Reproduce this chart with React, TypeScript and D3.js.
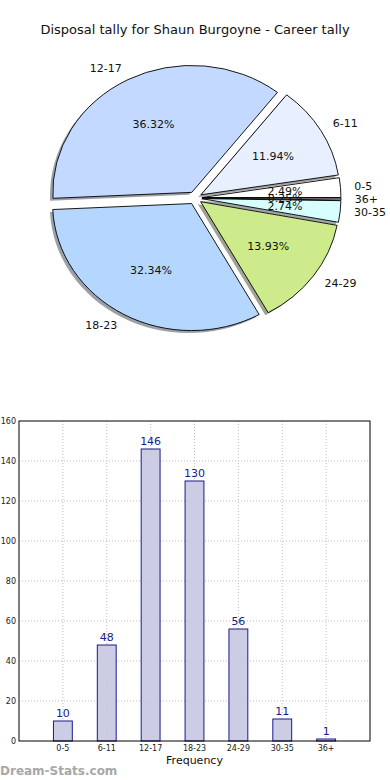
import { useEffect, useRef } from "react";
import * as d3 from "d3";

const categories = ["0-5", "6-11", "12-17", "18-23", "24-29", "30-35", "36+"];
const tally = [10, 48, 146, 130, 56, 11, 1];
const sliceColors = ["#ffffff", "#e8effe", "#c3d9ff", "#b5d7ff", "#cdeb8b", "#d7ffff", "#c8c8c8"];
const yTicks = [0, 20, 40, 60, 80, 100, 120, 140, 160];

export default function App() {
  const ref = useRef<SVGSVGElement>(null);

  useEffect(() => {
    if (!ref.current) return;
    const svg = d3.select(ref.current);
    svg.selectAll("*").remove();
    const font = "DejaVu Sans, sans-serif";

    // title
    svg.append("text")
      .attr("x", 195).attr("y", 34)
      .attr("text-anchor", "middle")
      .attr("font-family", font).attr("font-size", 13)
      .attr("fill", "#111")
      .text("Disposal tally for Shaun Burgoyne - Career tally");

    // ---- pie (matplotlib style: ccw from 3 o'clock, elliptical, exploded) ----
    const cx = 195, cy = 198, rx = 139, ry = 127, explode = 0.05;
    const total = d3.sum(tally);
    const pie = d3.pie<number>().sort(null).value((d) => d);
    const slices = pie(tally).map((p, i) => {
      const t0 = p.startAngle, t1 = p.endAngle; // treated as ccw math angles
      const mid = (t0 + t1) / 2;
      return {
        i, t0, t1, mid,
        ox: cx + explode * rx * Math.cos(mid),
        oy: cy - explode * ry * Math.sin(mid),
      };
    });

    const arc = d3.arc<any>()
      .innerRadius(0).outerRadius(1)
      .startAngle((d: any) => Math.PI / 2 - d.t1)
      .endAngle((d: any) => Math.PI / 2 - d.t0);

    const pieG = svg.append("g");

    // shadows
    pieG.selectAll("path.shadow")
      .data(slices)
      .join("path")
      .attr("class", "shadow")
      .attr("transform", (d) => `translate(${d.ox - 2.8},${d.oy + 2.5}) scale(${rx},${ry})`)
      .attr("d", arc)
      .attr("fill", (d) => {
        const c = d3.rgb(sliceColors[d.i]);
        return d3.rgb(c.r * 0.3, c.g * 0.3, c.b * 0.3).toString();
      })
      .attr("opacity", 0.5);

    pieG.selectAll("path.wedge")
      .data(slices)
      .join("path")
      .attr("class", "wedge")
      .attr("transform", (d) => `translate(${d.ox},${d.oy}) scale(${rx},${ry})`)
      .attr("d", arc)
      .attr("fill", (d) => sliceColors[d.i])
      .attr("stroke", "#000")
      .attr("stroke-width", 0.9)
      .attr("vector-effect", "non-scaling-stroke");

    // category labels
    pieG.selectAll("text.lab")
      .data(slices)
      .join("text")
      .attr("class", "lab")
      .attr("x", (d) => d.ox + 1.1 * rx * Math.cos(d.mid))
      .attr("y", (d) => d.oy - 1.1 * ry * Math.sin(d.mid))
      .attr("text-anchor", (d) => (Math.cos(d.mid) >= 0 ? "start" : "end"))
      .attr("dominant-baseline", "central")
      .attr("font-family", font).attr("font-size", 11)
      .attr("fill", "#111")
      .text((d) => categories[d.i]);

    // percentage labels
    pieG.selectAll("text.pct")
      .data(slices)
      .join("text")
      .attr("class", "pct")
      .attr("x", (d) => d.ox + 0.6 * rx * Math.cos(d.mid))
      .attr("y", (d) => d.oy - 0.6 * ry * Math.sin(d.mid))
      .attr("text-anchor", "middle")
      .attr("dominant-baseline", "central")
      .attr("font-family", font).attr("font-size", 11)
      .attr("fill", "#111")
      .text((d) => ((tally[d.i] / total) * 100).toFixed(2) + "%");

    // ---- bar chart ----
    const left = 19, right = 370, top = 421, bottom = 741;
    const x = d3.scaleLinear().domain([-1, 7]).range([left, right]);
    const y = d3.scaleLinear().domain([0, 160]).range([bottom, top]);
    const barW = x(0.43) - x(0);
    const g = svg.append("g");

    // grid
    g.selectAll("line.hgrid")
      .data(yTicks.slice(1, -1))
      .join("line")
      .attr("class", "hgrid")
      .attr("x1", left).attr("x2", right)
      .attr("y1", (d) => y(d)).attr("y2", (d) => y(d))
      .attr("stroke", "#bdbdbd").attr("stroke-width", 1)
      .attr("stroke-dasharray", "1,2");
    g.selectAll("line.vgrid")
      .data(categories)
      .join("line")
      .attr("class", "vgrid")
      .attr("x1", (_, i) => x(i)).attr("x2", (_, i) => x(i))
      .attr("y1", top).attr("y2", bottom)
      .attr("stroke", "#bdbdbd").attr("stroke-width", 1)
      .attr("stroke-dasharray", "1,2");

    // bars
    g.selectAll("rect.bar")
      .data(tally)
      .join("rect")
      .attr("class", "bar")
      .attr("x", (_, i) => x(i) - barW / 2)
      .attr("y", (d) => y(d))
      .attr("width", barW)
      .attr("height", (d) => bottom - y(d))
      .attr("fill", "#c6c6e2")
      .attr("fill-opacity", 0.9)
      .attr("stroke", "#1a1a8c")
      .attr("stroke-width", 1);

    // value labels
    g.selectAll("text.val")
      .data(tally)
      .join("text")
      .attr("class", "val")
      .attr("x", (_, i) => x(i))
      .attr("y", (d) => y(d) - 4)
      .attr("text-anchor", "middle")
      .attr("font-family", font).attr("font-size", 11)
      .attr("fill", "#1a1a8c")
      .text((d) => d);

    // frame
    g.append("rect")
      .attr("x", left).attr("y", top)
      .attr("width", right - left).attr("height", bottom - top)
      .attr("fill", "none").attr("stroke", "#000").attr("stroke-width", 1);

    // y ticks
    g.selectAll("text.ytick")
      .data(yTicks)
      .join("text")
      .attr("class", "ytick")
      .attr("x", left - 3)
      .attr("y", (d) => y(d))
      .attr("text-anchor", "end")
      .attr("dominant-baseline", "central")
      .attr("font-family", font).attr("font-size", 8)
      .attr("fill", "#222")
      .text((d) => d);

    // x ticks
    g.selectAll("text.xtick")
      .data(categories)
      .join("text")
      .attr("class", "xtick")
      .attr("x", (_, i) => x(i))
      .attr("y", bottom + 10)
      .attr("text-anchor", "middle")
      .attr("font-family", font).attr("font-size", 8)
      .attr("fill", "#222")
      .text((d) => d);

    g.append("text")
      .attr("x", (left + right) / 2).attr("y", 764)
      .attr("text-anchor", "middle")
      .attr("font-family", font).attr("font-size", 11)
      .attr("fill", "#111")
      .text("Frequency");

    svg.append("text")
      .attr("x", 0).attr("y", 775)
      .attr("font-family", font).attr("font-size", 12)
      .attr("font-weight", "bold")
      .attr("fill", "#a8a8a8")
      .text("Dream-Stats.com");
  }, []);

  return (
    <svg
      ref={ref}
      width={390}
      height={780}
      style={{ position: "absolute", left: 0, top: 0, background: "#fff" }}
    />
  );
}
